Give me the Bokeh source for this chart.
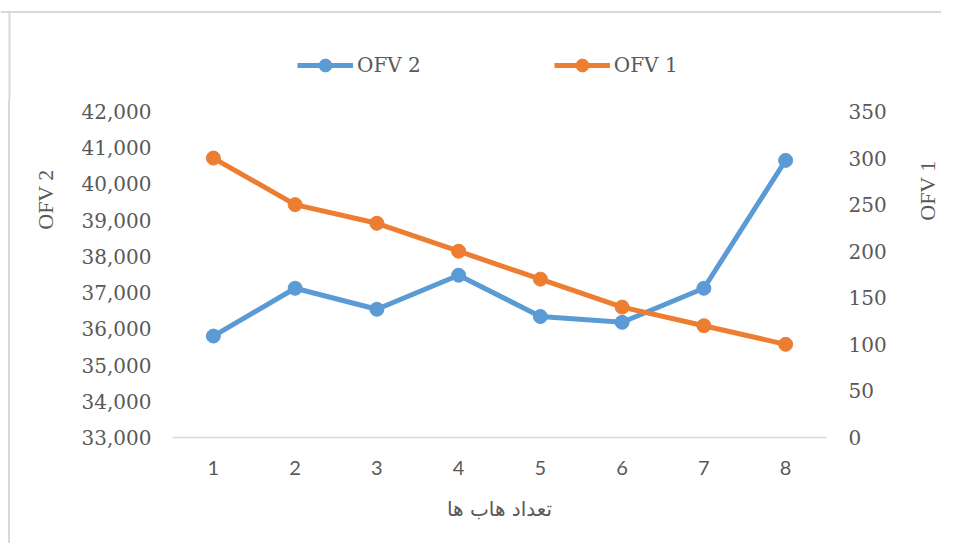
from bokeh.plotting import figure
from bokeh.layouts import row, column
from bokeh.models import (Range1d, LinearAxis, FixedTicker, NumeralTickFormatter,
                          Legend, LegendItem, Label, Span)
from bokeh.embed import file_html
from bokeh.resources import INLINE

hubs = [1, 2, 3, 4, 5, 6, 7, 8]
ofv1 = [300, 250, 230, 200, 170, 140, 120, 100]
ofv2 = [35800, 37120, 36540, 37480, 36340, 36180, 37120, 40650]
left_ticks = [33000, 34000, 35000, 36000, 37000, 38000, 39000, 40000, 41000, 42000]
right_ticks = [0, 50, 100, 150, 200, 250, 300, 350]
x_title = "تعداد هاب ها"
name1 = "OFV 1"
name2 = "OFV 2"

BLUE = "#5B9BD5"
ORANGE = "#ED7D31"
GREY = "#595959"
FRAME = "#d9d9d9"


def blank(w, h, y0=0):
    f = figure(width=w, height=h, output_backend="svg", toolbar_location=None,
               x_range=Range1d(0, w), y_range=Range1d(y0, y0 + h),
               x_axis_location=None, y_axis_location=None, min_border=0)
    f.outline_line_color = None
    f.xgrid.visible = False
    f.ygrid.visible = False
    f.border_fill_color = "white"
    f.background_fill_color = "white"
    return f


# ---------- main chart ----------
p = figure(width=824, height=443, output_backend="svg", toolbar_location=None,
           x_range=Range1d(0.5, 8.5), y_range=Range1d(33000, 42000),
           min_border_left=100, min_border_right=70, min_border_top=11,
           min_border_bottom=106)
p.outline_line_color = None
p.background_fill_color = "white"
p.border_fill_color = "white"
p.xgrid.visible = False
p.ygrid.visible = False
p.extra_y_ranges = {"right": Range1d(0, 350)}

xa = p.xaxis[0]
xa.ticker = FixedTicker(ticks=hubs)
xa.major_tick_line_color = None
xa.minor_tick_line_color = None
xa.axis_line_color = FRAME
xa.axis_line_width = 1.5
xa.major_label_text_font = "Lato"
xa.major_label_text_font_size = "20px"
xa.major_label_text_color = GREY
xa.major_label_standoff = 17
xa.axis_label = x_title
xa.axis_label_text_font = "DejaVu Sans"
xa.axis_label_text_font_size = "20px"
xa.axis_label_text_font_style = "normal"
xa.axis_label_text_color = GREY
xa.axis_label_standoff = 19

ya = p.yaxis[0]
ya.ticker = FixedTicker(ticks=left_ticks)
ya.formatter = NumeralTickFormatter(format="0,0")
ya.major_tick_line_color = None
ya.minor_tick_line_color = None
ya.axis_line_color = None
ya.major_label_text_font = "DejaVu Serif"
ya.major_label_text_font_size = "20px"
ya.major_label_text_color = GREY
ya.major_label_standoff = 15

ra = LinearAxis(y_range_name="right", ticker=FixedTicker(ticks=right_ticks))
ra.major_tick_line_color = None
ra.minor_tick_line_color = None
ra.axis_line_color = None
ra.major_label_text_font = "DejaVu Serif"
ra.major_label_text_font_size = "20px"
ra.major_label_text_color = GREY
ra.major_label_standoff = 16
p.add_layout(ra, "right")

p.line(hubs, ofv2, line_color=BLUE, line_width=5)
p.scatter(hubs, ofv2, size=14, fill_color=BLUE, line_color=BLUE)
p.line(hubs, ofv1, line_color=ORANGE, line_width=5, y_range_name="right")
p.scatter(hubs, ofv1, size=14, fill_color=ORANGE, line_color=ORANGE,
          y_range_name="right")

# ---------- top strip: legend + top border ----------
# the series are drawn again here only to feed the legend; this strip's
# y range is negative, so only their legend glyphs are visible
p0 = blank(941, 100, y0=-100)
lg2 = p0.line(hubs, ofv2, line_color=BLUE, line_width=5)
mk2 = p0.scatter(hubs, ofv2, size=14, fill_color=BLUE, line_color=BLUE)
lg1 = p0.line(hubs, ofv1, line_color=ORANGE, line_width=5)
mk1 = p0.scatter(hubs, ofv1, size=14, fill_color=ORANGE, line_color=ORANGE)
legend = Legend(items=[LegendItem(label=name2, renderers=[lg2, mk2]),
                       LegendItem(label=name1, renderers=[lg1, mk1])],
                orientation="horizontal", location=(297, 19),
                padding=0, margin=0, spacing=133, glyph_width=56, glyph_height=32,
                label_standoff=4, label_text_font="DejaVu Serif",
                label_text_font_size="20px", label_text_color=GREY,
                border_line_color=None, background_fill_alpha=0)
p0.add_layout(legend, "center")
p0.add_layout(Span(location=-11.5, dimension="width", line_color=FRAME, line_width=2))
p0.segment(x0=[9], y0=[-100], x1=[9], y1=[-10.5], line_color=FRAME, line_width=2)

# ---------- left strip: left title + left border ----------
pL = blank(64, 443)
pL.styles = {"border-left": "2px solid #d9d9d9", "margin-left": "8px"}
pL.add_layout(Label(x=35, y=238, x_units="screen", y_units="screen", text=name2,
                    angle=1.5708, text_align="center", text_baseline="middle",
                    text_font="Liberation Serif", text_font_size="22px",
                    text_color=GREY))

# ---------- right strip: right title ----------
pR = blank(43, 443)
pR.add_layout(Label(x=31, y=247, x_units="screen", y_units="screen", text=name1,
                    angle=1.5708, text_align="center", text_baseline="middle",
                    text_font="Liberation Serif", text_font_size="22px",
                    text_color=GREY))

layout = column(p0, row(pL, p, pR, spacing=0), spacing=0)
open("out.html", "w").write(file_html(layout, INLINE))
